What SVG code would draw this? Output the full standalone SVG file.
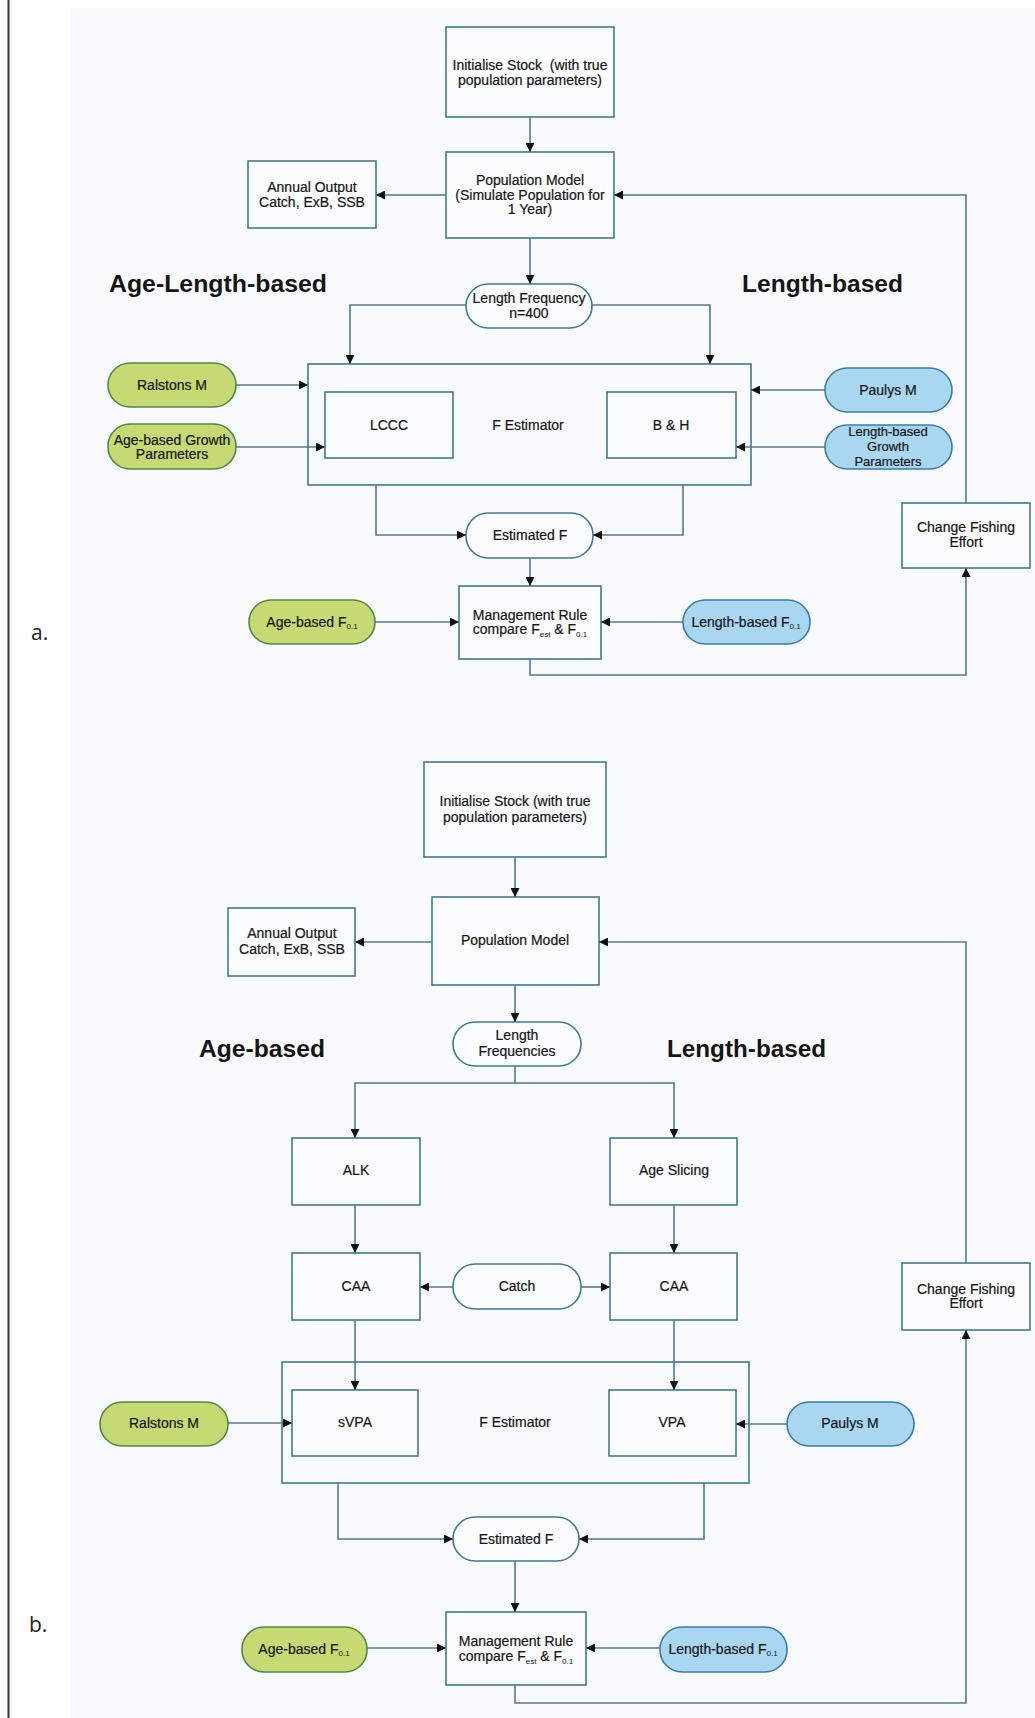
<svg xmlns="http://www.w3.org/2000/svg" width="1035" height="1718" viewBox="0 0 1035 1718">
<defs>
<style>
text{font-family:"Liberation Sans",Arial,sans-serif;font-size:14px;fill:#151515;stroke:#151515;stroke-width:0.2;text-anchor:middle}
.box{fill:#fbfcfe;stroke:#3d7a96;stroke-width:1.6}
.outer{fill:none;stroke:#3d7a96;stroke-width:1.6}
.term{fill:#fbfcfe;stroke:#3d7a96;stroke-width:1.6}
.green{fill:#c6da74;stroke:#4f8a45;stroke-width:1.6}
.blue{fill:#a9d7f1;stroke:#3b7ca6;stroke-width:1.6}
.head{font-size:23px;font-weight:bold;text-anchor:start;stroke:none}
.lbl{font-family:"Open Sans","Liberation Sans",sans-serif;font-size:21px;text-anchor:start;fill:#222;stroke:none}
.sub{font-size:8px;stroke:none}
.c path{fill:none;stroke:#4d7c92;stroke-width:1.6}
</style>
<marker id="ah" viewBox="0 0 10 10" refX="10" refY="5" markerWidth="9" markerHeight="9" markerUnits="userSpaceOnUse" orient="auto">
<path d="M0,0 L10,5 L0,10 z" fill="#111"/>
</marker>
</defs>
<rect x="71" y="8" width="964" height="1710" fill="#f9fafd"/>
<line x1="8.5" y1="0" x2="8.5" y2="1718" stroke="#333" stroke-width="2"/>

<!-- Part a -->
<text class="head" x="109" y="292" textLength="218" lengthAdjust="spacingAndGlyphs">Age-Length-based</text>
<text class="head" x="742" y="292" textLength="161" lengthAdjust="spacingAndGlyphs">Length-based</text>
<text class="lbl" x="31" y="640">a.</text>

<g id="a-init"><rect class="box" x="446" y="27" width="168" height="90"/>
<text x="530" y="70" xml:space="preserve">Initialise Stock  (with true</text><text x="530" y="85">population parameters)</text></g>
<g id="a-popmodel"><rect class="box" x="446" y="152" width="168" height="86"/>
<text x="530" y="185">Population Model</text><text x="530" y="200">(Simulate Population for</text><text x="530" y="214">1 Year)</text></g>
<g id="a-annual"><rect class="box" x="248" y="161" width="128" height="67"/>
<text x="312" y="192">Annual Output</text><text x="312" y="207">Catch, ExB, SSB</text></g>
<g id="a-lenfreq"><rect class="term" x="466" y="284" width="126" height="44" rx="22"/>
<text x="529" y="303">Length Frequency</text><text x="529" y="318">n=400</text></g>
<g id="a-festimator"><rect class="outer" x="308" y="364" width="443" height="121"/>
<text x="528" y="430">F Estimator</text></g>
<g id="a-lccc"><rect class="box" x="325" y="392" width="128" height="66"/><text x="389" y="430">LCCC</text></g>
<g id="a-bh"><rect class="box" x="607" y="392" width="129" height="66"/><text x="671" y="430">B &amp; H</text></g>
<g id="a-ralstons"><rect class="green" x="108" y="363" width="128" height="44" rx="22"/><text x="172" y="390">Ralstons M</text></g>
<g id="a-agegrowth"><rect class="green" x="108" y="424" width="128" height="45" rx="22"/>
<text x="172" y="445">Age-based Growth</text><text x="172" y="459">Parameters</text></g>
<g id="a-paulys"><rect class="blue" x="825" y="368" width="127" height="44" rx="22"/><text x="888" y="395">Paulys M</text></g>
<g id="a-lengrowth"><rect class="blue" x="825" y="425" width="127" height="44" rx="22"/>
<text x="888" y="436" style="font-size:13px">Length-based</text><text x="888" y="451" style="font-size:13px">Growth</text><text x="888" y="466" style="font-size:13px">Parameters</text></g>
<g id="a-estf"><rect class="term" x="466" y="513" width="127" height="45" rx="22"/><text x="530" y="540">Estimated F</text></g>
<g id="a-mgmt"><rect class="box" x="459" y="586" width="142" height="73"/>
<text x="530" y="620">Management Rule</text><text x="530" y="634">compare F<tspan class="sub" dy="3">est</tspan><tspan dy="-3"> &amp; F</tspan><tspan class="sub" dy="3">0.1</tspan></text></g>
<g id="a-agef01"><rect class="green" x="249" y="600" width="126" height="44" rx="22"/>
<text x="312" y="627">Age-based F<tspan class="sub" dy="2">0.1</tspan></text></g>
<g id="a-lenf01"><rect class="blue" x="683" y="600" width="127" height="44" rx="22"/>
<text x="746" y="627">Length-based F<tspan class="sub" dy="2">0.1</tspan></text></g>
<g id="a-change"><rect class="box" x="902" y="503" width="128" height="65"/>
<text x="966" y="532">Change Fishing</text><text x="966" y="547">Effort</text></g>

<!-- Part b -->
<text class="head" x="199" y="1057" textLength="126" lengthAdjust="spacingAndGlyphs">Age-based</text>
<text class="head" x="667" y="1057" textLength="159" lengthAdjust="spacingAndGlyphs">Length-based</text>
<text class="lbl" x="29" y="1632">b.</text>

<g id="b-init"><rect class="box" x="424" y="762" width="182" height="95"/>
<text x="515" y="806">Initialise Stock (with true</text><text x="515" y="822">population parameters)</text></g>
<g id="b-popmodel"><rect class="box" x="432" y="897" width="167" height="88"/><text x="515" y="945">Population Model</text></g>
<g id="b-annual"><rect class="box" x="228" y="908" width="127" height="68"/>
<text x="292" y="938">Annual Output</text><text x="292" y="954">Catch, ExB, SSB</text></g>
<g id="b-lenfreq"><rect class="term" x="453" y="1022" width="128" height="44" rx="22"/>
<text x="517" y="1040">Length</text><text x="517" y="1056">Frequencies</text></g>
<g id="b-alk"><rect class="box" x="292" y="1138" width="128" height="67"/><text x="356" y="1175">ALK</text></g>
<g id="b-ageslicing"><rect class="box" x="610" y="1138" width="127" height="67"/><text x="674" y="1175">Age Slicing</text></g>
<g id="b-caa-left"><rect class="box" x="292" y="1253" width="128" height="67"/><text x="356" y="1291">CAA</text></g>
<g id="b-caa-right"><rect class="box" x="610" y="1253" width="127" height="67"/><text x="674" y="1291">CAA</text></g>
<g id="b-catch"><rect class="term" x="453" y="1264" width="128" height="45" rx="22"/><text x="517" y="1291">Catch</text></g>
<g id="b-change"><rect class="box" x="902" y="1263" width="128" height="67"/>
<text x="966" y="1294">Change Fishing</text><text x="966" y="1308">Effort</text></g>
<g id="b-festimator"><rect class="outer" x="282" y="1362" width="467" height="121"/><text x="515" y="1427">F Estimator</text></g>
<g id="b-svpa"><rect class="box" x="292" y="1390" width="126" height="66"/><text x="355" y="1427">sVPA</text></g>
<g id="b-vpa"><rect class="box" x="609" y="1390" width="127" height="66"/><text x="672" y="1427">VPA</text></g>
<g id="b-ralstons"><rect class="green" x="100" y="1402" width="128" height="44" rx="22"/><text x="164" y="1428">Ralstons M</text></g>
<g id="b-paulys"><rect class="blue" x="787" y="1402" width="127" height="44" rx="22"/><text x="850" y="1428">Paulys M</text></g>
<g id="b-estf"><rect class="term" x="453" y="1517" width="126" height="44" rx="22"/><text x="516" y="1544">Estimated F</text></g>
<g id="b-mgmt"><rect class="box" x="446" y="1612" width="140" height="73"/>
<text x="516" y="1646">Management Rule</text><text x="516" y="1661">compare F<tspan class="sub" dy="3">est</tspan><tspan dy="-3"> &amp; F</tspan><tspan class="sub" dy="3">0.1</tspan></text></g>
<g id="b-agef01"><rect class="green" x="242" y="1627" width="125" height="45" rx="22"/>
<text x="304" y="1654">Age-based F<tspan class="sub" dy="2">0.1</tspan></text></g>
<g id="b-lenf01"><rect class="blue" x="660" y="1627" width="127" height="45" rx="22"/>
<text x="723" y="1654">Length-based F<tspan class="sub" dy="2">0.1</tspan></text></g>

<!-- connectors -->
<g id="connectors" class="c">
<path d="M530,117 V152" marker-end="url(#ah)"/>
<path d="M446,195 H376" marker-end="url(#ah)"/>
<path d="M966,503 V195 H614" marker-end="url(#ah)"/>
<path d="M530,238 V284" marker-end="url(#ah)"/>
<path d="M466,305 H350 V364" marker-end="url(#ah)"/>
<path d="M592,305 H710 V364" marker-end="url(#ah)"/>
<path d="M236,385 H308" marker-end="url(#ah)"/>
<path d="M236,447 H325" marker-end="url(#ah)"/>
<path d="M825,390 H751" marker-end="url(#ah)"/>
<path d="M825,447 H736" marker-end="url(#ah)"/>
<path d="M376,485 V535 H466" marker-end="url(#ah)"/>
<path d="M683,485 V535 H593" marker-end="url(#ah)"/>
<path d="M530,558 V586" marker-end="url(#ah)"/>
<path d="M375,622 H459" marker-end="url(#ah)"/>
<path d="M683,622 H601" marker-end="url(#ah)"/>
<path d="M530,659 V675 H966 V568" marker-end="url(#ah)"/>
<path d="M515,857 V897" marker-end="url(#ah)"/>
<path d="M432,942 H355" marker-end="url(#ah)"/>
<path d="M966,1263 V942 H599" marker-end="url(#ah)"/>
<path d="M515,985 V1022" marker-end="url(#ah)"/>
<path d="M515,1066 V1083 H355 V1138" marker-end="url(#ah)"/>
<path d="M515,1083 H674 V1138" marker-end="url(#ah)"/>
<path d="M355,1205 V1253" marker-end="url(#ah)"/>
<path d="M674,1205 V1253" marker-end="url(#ah)"/>
<path d="M453,1287 H420" marker-end="url(#ah)"/>
<path d="M581,1287 H610" marker-end="url(#ah)"/>
<path d="M355,1320 V1390" marker-end="url(#ah)"/>
<path d="M674,1320 V1390" marker-end="url(#ah)"/>
<path d="M228,1423 H292" marker-end="url(#ah)"/>
<path d="M787,1424 H736" marker-end="url(#ah)"/>
<path d="M338,1483 V1539 H453" marker-end="url(#ah)"/>
<path d="M704,1483 V1539 H579" marker-end="url(#ah)"/>
<path d="M515,1561 V1612" marker-end="url(#ah)"/>
<path d="M367,1648 H446" marker-end="url(#ah)"/>
<path d="M660,1648 H586" marker-end="url(#ah)"/>
<path d="M515,1685 V1703 H966 V1330" marker-end="url(#ah)"/>
</g>
</svg>
